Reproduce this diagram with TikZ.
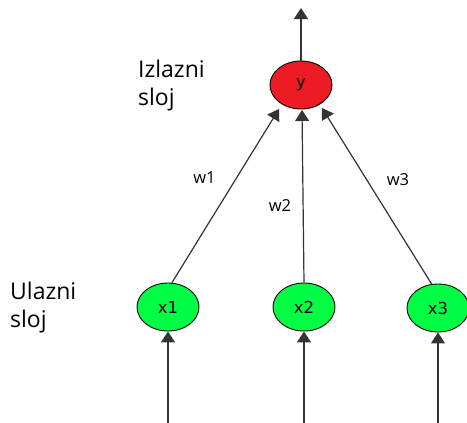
\documentclass[tikz,border=0pt]{standalone}
\usepackage{fontspec}
\setmainfont{Open Sans}
\newfontfamily\nodefont{DejaVu Sans}
\usetikzlibrary{arrows.meta,shapes.geometric}
\definecolor{outred}{HTML}{ED1C24}
\definecolor{ingreen}{HTML}{00FF44}
\tikzset{
  neuron/.style={ellipse, draw=black, line width=0.9pt, minimum width=62pt, minimum height=48pt, inner sep=0pt, font=\nodefont\fontsize{16.5}{19}\selectfont},
  outneuron/.style={neuron, fill=outred},
  inneuron/.style={neuron, fill=ingreen},
  link/.style={draw=black!80, line width=1.2pt, -{Triangle[width=14pt,length=11pt]}},
  layerlabel/.style={align=left, anchor=north west, inner sep=0pt, font=\fontsize{23}{28}\selectfont},
  weight/.style={font=\fontsize{16.5}{19}\selectfont, inner sep=1pt}
}
\begin{document}
\begin{tikzpicture}[x=1pt,y=-1pt]
  \useasboundingbox (0,0) rectangle (467,423);
  % output neuron
  \node[outneuron] (y) at (301,85) {y};
  \coordinate (yout) at (301,8);
  % input neurons
  \node[inneuron] (x1) at (168,307) {x1};
  \node[inneuron] (x2) at (304,307) {x2};
  \node[inneuron] (x3) at (438,308) {x3};
  % free ends of the input lines
  \coordinate (i1) at (168,424);
  \coordinate (i2) at (304,424);
  \coordinate (i3) at (438,424);
  % arrowhead targets under the output neuron
  \coordinate (t1) at (279,109);
  \coordinate (t2) at (302,110);
  \coordinate (t3) at (322,108);
  % connectors
  \draw[link] (y.north) -- (yout);
  \draw[link] (i1) -- (x1.south);
  \draw[link] (i2) -- (x2.south);
  \draw[link] (i3) -- (x3.south);
  \draw[link] (x1.north) ++(4,0) coordinate (s1) (s1) -- (t1);
  \draw[link] (x2.north) -- (t2);
  \draw[link] (x3.north) ++(-6,1) coordinate (s3) (s3) -- (t3);
  % weights
  \node[weight] (w1) at (204.5,178) {w1};
  \node[weight] (w2) at (280,206) {w2};
  \node[weight] (w3) at (398,180) {w3};
  % layer names
  \node[layerlabel] (out) at (138,60) {Izlazni\\sloj};
  \node[layerlabel] (in) at (10,282) {Ulazni\\sloj};
\end{tikzpicture}
\end{document}
